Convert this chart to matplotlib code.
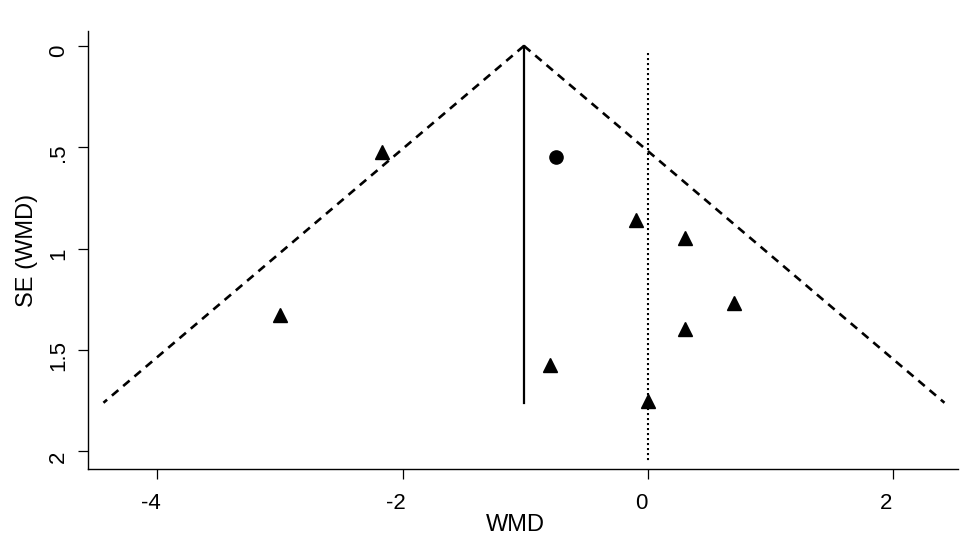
import matplotlib
matplotlib.use('Agg')
import matplotlib.pyplot as plt
from matplotlib.transforms import ScaledTranslation

plt.rcParams['font.family'] = ['Liberation Sans', 'DejaVu Sans']

# study estimates (WMD, SE)
tri_wmd = [-2.17, -3.00, -0.10, 0.30, 0.70, 0.30, -0.80, 0.00]
tri_se = [0.524, 1.327, 0.858, 0.946, 1.266, 1.398, 1.574, 1.750]
circ_wmd = [-0.75]
circ_se = [0.546]

# pooled estimate and pseudo 95% limits
pooled = -1.01
funnel_se = [0.0, 1.76]
funnel_left = [-1.01, -4.44]
funnel_right = [-1.01, 2.42]
null_se = [0.033, 2.05]

xticks = [-4, -2, 0, 2]
yticks = [0, 0.5, 1, 1.5, 2]
ytick_labels = ['0', '.5', '1', '1.5', '2']

fig = plt.figure(figsize=(9.79, 5.56), dpi=100)
ax = fig.add_axes([0.0894, 0.156, 0.8891, 0.7888])

# funnel limits, pooled line and null line
ax.plot(funnel_left, funnel_se, color='black', lw=1.9, ls=(0, (3.2, 2.4)))
ax.plot(funnel_right, funnel_se, color='black', lw=1.9, ls=(0, (3.2, 2.4)))
ax.plot([pooled, pooled], funnel_se, color='black', lw=1.6)
ax.plot([0, 0], null_se, color='black', lw=1.5, ls=(0, (1, 1.4)))

ax.plot(tri_wmd, tri_se, ls='none', marker='^', ms=10, color='black')
ax.plot(circ_wmd, circ_se, ls='none', marker='o', ms=9.5, color='black')

ax.set_xlim(-4.57, 2.53)
ax.set_ylim(2.088, -0.075)
ax.set_xticks(xticks)
ax.set_xticklabels([str(t) for t in xticks])
ax.set_yticks(yticks)
ax.set_yticklabels(ytick_labels, rotation=90, va='center')

ax.spines['top'].set_visible(False)
ax.spines['right'].set_visible(False)
ax.spines['left'].set_linewidth(1.0)
ax.spines['bottom'].set_linewidth(1.0)
ax.tick_params(axis='both', length=7.2, width=0.9, labelsize=16)
ax.tick_params(axis='x', pad=10)
ax.tick_params(axis='y', pad=6)

# labels sit a little off their ticks in the original
for lab in ax.get_xticklabels():
    lab.set_transform(lab.get_transform() + ScaledTranslation(-0.065, 0, fig.dpi_scale_trans))
for lab in ax.get_yticklabels():
    lab.set_transform(lab.get_transform() + ScaledTranslation(0, -0.05, fig.dpi_scale_trans))

ax.set_xlabel('WMD', fontsize=17)
ax.set_ylabel('SE (WMD)', fontsize=17)
ax.xaxis.set_label_coords(0.4917, -0.102)
ax.yaxis.set_label_coords(-0.0565, 0.5)

fig.savefig('out.png', dpi=100)
